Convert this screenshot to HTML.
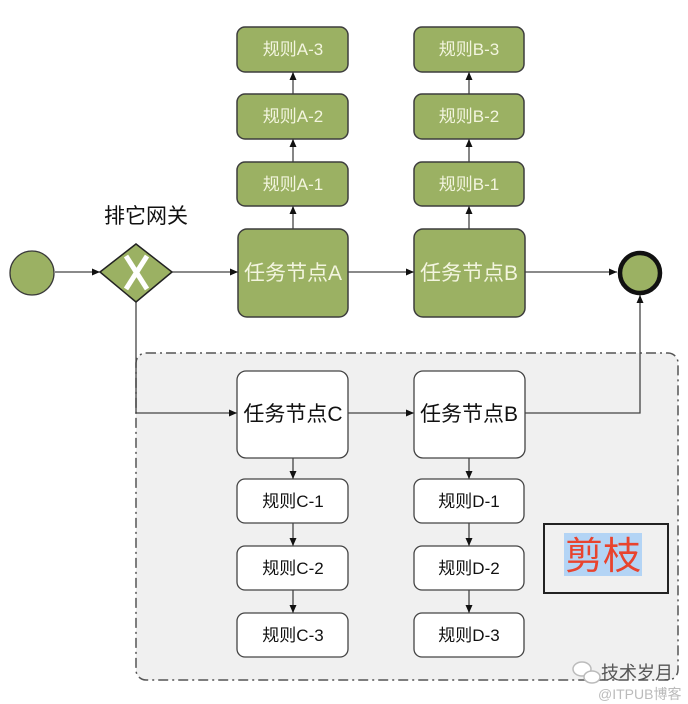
<!DOCTYPE html>
<html><head><meta charset="utf-8"><style>
html,body{margin:0;padding:0;background:#fff;}
svg{display:block;}
text{font-family:"Liberation Sans","Noto Sans CJK SC",sans-serif;}
</style></head><body>
<svg width="688" height="704" viewBox="0 0 688 704" xmlns="http://www.w3.org/2000/svg">
<defs>
<marker id="ar" markerWidth="8" markerHeight="8" refX="8" refY="4" orient="auto" markerUnits="userSpaceOnUse">
<path d="M0,0.5 L8,4 L0,7.5 Z" fill="#111"/>
</marker>
</defs>
<rect width="688" height="704" fill="#fff"/>
<!-- dashed group box -->
<rect x="136" y="353" width="542" height="327" rx="10" ry="10" fill="#f0f0f0" stroke="#555" stroke-width="1.5" stroke-dasharray="10 4 2 4"/>

<g stroke="#444" stroke-width="1.3" fill="none">
<!-- main flow -->
<line x1="55" y1="272" x2="100" y2="272" marker-end="url(#ar)"/>
<line x1="172" y1="272" x2="238" y2="272" marker-end="url(#ar)"/>
<line x1="348" y1="272" x2="414" y2="272" marker-end="url(#ar)"/>
<line x1="525" y1="272" x2="617" y2="272" marker-end="url(#ar)"/>
<!-- A rules -->
<line x1="293" y1="229" x2="293" y2="206" marker-end="url(#ar)"/>
<line x1="293" y1="162" x2="293" y2="139" marker-end="url(#ar)"/>
<line x1="293" y1="94" x2="293" y2="72" marker-end="url(#ar)"/>
<!-- B rules -->
<line x1="469" y1="229" x2="469" y2="206" marker-end="url(#ar)"/>
<line x1="469" y1="162" x2="469" y2="139" marker-end="url(#ar)"/>
<line x1="469" y1="94" x2="469" y2="72" marker-end="url(#ar)"/>
<!-- gateway down branch -->
<polyline points="136,302 136,413 237,413" marker-end="url(#ar)"/>
<line x1="348" y1="413" x2="414" y2="413" marker-end="url(#ar)"/>
<polyline points="525,413 640,413 640,295" marker-end="url(#ar)"/>
<!-- C rules -->
<line x1="293" y1="458" x2="293" y2="479" marker-end="url(#ar)"/>
<line x1="293" y1="523" x2="293" y2="546" marker-end="url(#ar)"/>
<line x1="293" y1="590" x2="293" y2="613" marker-end="url(#ar)"/>
<!-- D rules -->
<line x1="469" y1="458" x2="469" y2="479" marker-end="url(#ar)"/>
<line x1="469" y1="523" x2="469" y2="546" marker-end="url(#ar)"/>
<line x1="469" y1="590" x2="469" y2="613" marker-end="url(#ar)"/>
</g>

<!-- start -->
<circle cx="32" cy="273" r="22" fill="#9bb163" stroke="#3a3a3a" stroke-width="1.3"/>
<!-- gateway -->
<polygon points="100,272 136,244 172,272 136,302" fill="#9bb163" stroke="#222" stroke-width="1.5"/>
<g stroke="#fff" stroke-width="5" stroke-linecap="butt">
<line x1="126" y1="256" x2="147" y2="289"/>
<line x1="147" y1="256" x2="126" y2="289"/>
</g>
<text x="146" y="223" font-size="21" text-anchor="middle" fill="#111">排它网关</text>
<!-- end -->
<circle cx="640" cy="273" r="20" fill="#9bb163" stroke="#111" stroke-width="4.5"/>

<!-- green tasks -->
<g fill="#9bb163" stroke="#3d3d3d" stroke-width="1.5">
<rect x="238" y="229" width="110" height="88" rx="9"/>
<rect x="414" y="229" width="111" height="88" rx="9"/>
<rect x="237" y="162" width="111" height="44" rx="8"/>
<rect x="237" y="94" width="111" height="45" rx="8"/>
<rect x="237" y="27" width="111" height="45" rx="8"/>
<rect x="414" y="162" width="110" height="44" rx="8"/>
<rect x="414" y="94" width="110" height="45" rx="8"/>
<rect x="414" y="27" width="110" height="45" rx="8"/>
</g>
<g fill="#f3f5df" text-anchor="middle">
<text x="293" y="280" font-size="21">任务节点A</text>
<text x="469" y="280" font-size="21">任务节点B</text>
<text x="293" y="190" font-size="17">规则A-1</text>
<text x="293" y="122" font-size="17">规则A-2</text>
<text x="293" y="55" font-size="17">规则A-3</text>
<text x="469" y="190" font-size="17">规则B-1</text>
<text x="469" y="122" font-size="17">规则B-2</text>
<text x="469" y="55" font-size="17">规则B-3</text>
</g>

<!-- white tasks -->
<g fill="#fff" stroke="#444" stroke-width="1.3">
<rect x="237" y="371" width="111" height="87" rx="9"/>
<rect x="414" y="371" width="111" height="87" rx="9"/>
<rect x="237" y="479" width="111" height="44" rx="8"/>
<rect x="237" y="546" width="111" height="44" rx="8"/>
<rect x="237" y="613" width="111" height="44" rx="8"/>
<rect x="414" y="479" width="110" height="44" rx="8"/>
<rect x="414" y="546" width="110" height="44" rx="8"/>
<rect x="414" y="613" width="110" height="44" rx="8"/>
</g>
<g fill="#111" text-anchor="middle">
<text x="293" y="421" font-size="21">任务节点C</text>
<text x="469" y="421" font-size="21">任务节点B</text>
<text x="293" y="507" font-size="17">规则C-1</text>
<text x="293" y="574" font-size="17">规则C-2</text>
<text x="293" y="641" font-size="17">规则C-3</text>
<text x="469" y="507" font-size="17">规则D-1</text>
<text x="469" y="574" font-size="17">规则D-2</text>
<text x="469" y="641" font-size="17">规则D-3</text>
</g>

<!-- pruning label -->
<rect x="544" y="524" width="124" height="69" fill="none" stroke="#222" stroke-width="2"/>
<rect x="564" y="533" width="78" height="43" fill="#b3d4f5"/>
<text x="603" y="569" font-size="38" text-anchor="middle" fill="#e8432e">剪枝</text>

<!-- watermark -->
<g fill="none" stroke="#bbb" stroke-width="1.5">
<ellipse cx="582" cy="669" rx="9" ry="7" fill="#fff"/>
<ellipse cx="592" cy="677" rx="8" ry="6" fill="#fff"/>
</g>
<text x="601" y="679" font-size="18" fill="#555">技术岁月</text>
<text x="598" y="699" font-size="14" fill="#bbb">@ITPUB博客</text>
</svg>
</body></html>
